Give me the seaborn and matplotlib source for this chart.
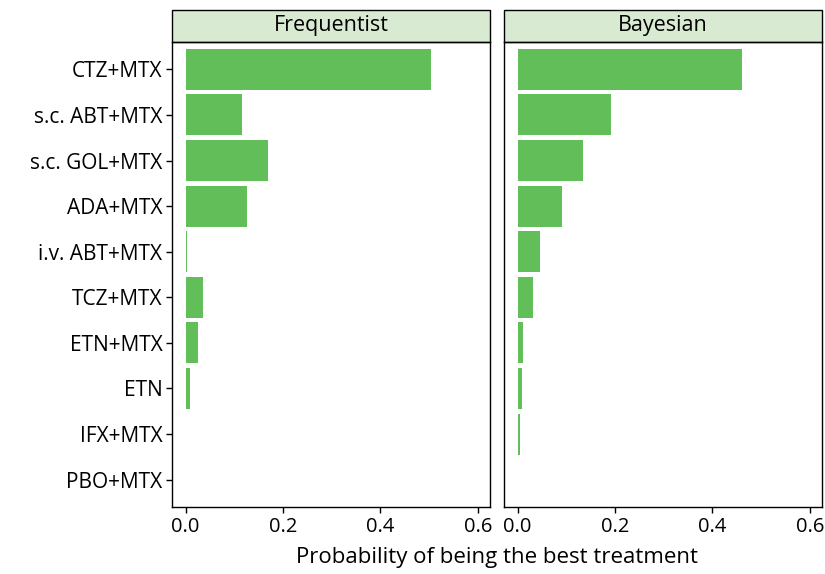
import numpy as np
import pandas as pd
import matplotlib
matplotlib.use("Agg")
import matplotlib.pyplot as plt
import seaborn as sns
from matplotlib.patches import Rectangle

treatments = ["CTZ+MTX", "s.c. ABT+MTX", "s.c. GOL+MTX", "ADA+MTX", "i.v. ABT+MTX",
              "TCZ+MTX", "ETN+MTX", "ETN", "IFX+MTX", "PBO+MTX"]
freq_prob = [0.503, 0.116, 0.170, 0.126, 0.003, 0.036, 0.025, 0.008, 0.0, 0.0]
bayes_prob = [0.460, 0.192, 0.134, 0.091, 0.046, 0.031, 0.012, 0.008, 0.004, 0.0]
panels = ["Frequentist", "Bayesian"]
ticks = [0.0, 0.2, 0.4, 0.6]

df = pd.concat([
    pd.DataFrame({"treatment": treatments, "prob": freq_prob, "method": panels[0]}),
    pd.DataFrame({"treatment": treatments, "prob": bayes_prob, "method": panels[1]}),
])

sns.set_style("white")
plt.rcParams["font.family"] = ["Open Sans", "DejaVu Sans"]
plt.rcParams["text.color"] = "black"

fig = plt.figure(figsize=(8.25, 5.74), dpi=100)
W, H = 825, 574
axes = []
for x0, x1 in [(172, 490), (504, 822)]:
    ax = fig.add_axes([x0 / W, 1 - 507 / H, (x1 - x0) / W, (507 - 42) / H])
    axes.append(ax)

for ax, name in zip(axes, panels):
    sub = df[df["method"] == name]
    sns.barplot(data=sub, x="prob", y="treatment", order=treatments, color="#61be58",
                saturation=1, width=0.9, linewidth=0, ax=ax, orient="h")
    ax.set_xlim(-0.028, 0.625)
    ax.set_ylim(9.6, -0.6)
    ax.set_xticks(ticks)
    ax.set_xticklabels([f"{t:.1f}" for t in ticks], fontsize=14.5)
    ax.set_xlabel("")
    ax.set_ylabel("")
    for s in ax.spines.values():
        s.set_color("black")
        s.set_linewidth(1.0)
    ax.tick_params(axis="both", direction="out", length=4, width=1, color="black",
                   labelcolor="black", left=True, bottom=True, pad=3)
    strip_h = 32 / 465
    ax.add_patch(Rectangle((0, 1), 1, strip_h, transform=ax.transAxes, clip_on=False,
                           facecolor="#d9ead3", edgecolor="black", linewidth=1.0))
    ax.text(0.5, 1 + strip_h / 2, name, transform=ax.transAxes, ha="center",
            va="center", fontsize=15.5, color="black")

axes[0].set_yticks(range(len(treatments)))
axes[0].set_yticklabels(treatments, fontsize=15)
axes[1].set_yticks(range(len(treatments)))
axes[1].set_yticklabels([])
axes[1].tick_params(axis="y", length=0)

fig.text((172 + 822) / 2 / W, 1 - 558 / H, "Probability of being the best treatment",
         ha="center", va="center", fontsize=16, color="black")

fig.savefig("out.png", dpi=100)
